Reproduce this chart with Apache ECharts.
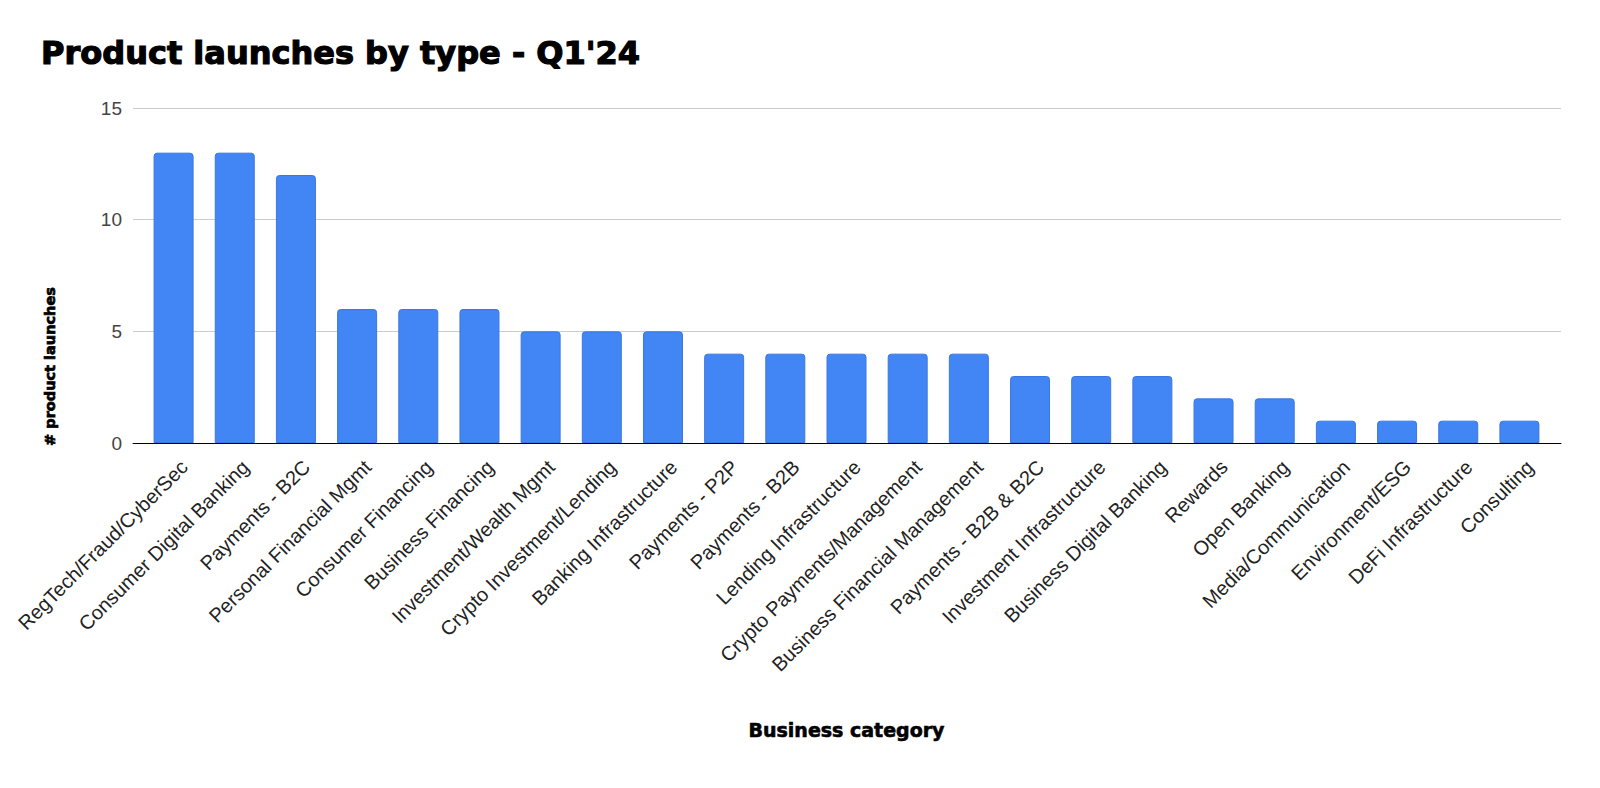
<!DOCTYPE html>
<html>
<head>
<meta charset="utf-8">
<script src="https://cdn.jsdelivr.net/npm/echarts@6/dist/echarts.min.js"></script>
<style>
html,body{margin:0;padding:0;background:#fff;}
#chart{width:1600px;height:788px;}
</style>
</head>
<body>
<div id="chart"></div>
<script>
const categories = [
  "RegTech/Fraud/CyberSec",
  "Consumer Digital Banking",
  "Payments - B2C",
  "Personal Financial Mgmt",
  "Consumer Financing",
  "Business Financing",
  "Investment/Wealth Mgmt",
  "Crypto Investment/Lending",
  "Banking Infrastructure",
  "Payments - P2P",
  "Payments - B2B",
  "Lending Infrastructure",
  "Crypto Payments/Management",
  "Business Financial Management",
  "Payments - B2B & B2C",
  "Investment Infrastructure",
  "Business Digital Banking",
  "Rewards",
  "Open Banking",
  "Media/Communication",
  "Environment/ESG",
  "DeFi Infrastructure",
  "Consulting"
];
const launches = [13, 13, 12, 6, 6, 6, 5, 5, 5, 4, 4, 4, 4, 4, 3, 3, 3, 2, 2, 1, 1, 1, 1];
const yTicks = [0, 5, 10, 15];

const yMin = yTicks[0];
const yMax = yTicks[yTicks.length - 1];
const yStep = yTicks[1] - yTicks[0];

const chart = echarts.init(document.getElementById('chart'), null, {renderer: 'svg'});
chart.setOption({
  backgroundColor: '#ffffff',
  animation: false,
  title: {
    text: "Product launches by type - Q1'24",
    left: 41,
    top: 37,
    padding: 0,
    textStyle: {
      fontFamily: 'DejaVu Sans',
      fontWeight: 'bold',
      fontSize: 32,
      color: '#000000',
      textBorderColor: '#000000',
      textBorderWidth: 1.2
    }
  },
  grid: [
    {left: 133, right: 39, top: 108, bottom: 345, containLabel: false},
    {left: 143, right: 50, top: 108, bottom: 345, containLabel: false}
  ],
  xAxis: [
    {
      gridIndex: 0,
      type: 'value',
      min: 0,
      max: 1,
      z: 5,
      axisLine: {show: true, onZero: false, lineStyle: {color: '#000000', width: 1}},
      axisTick: {show: false},
      axisLabel: {show: false},
      splitLine: {show: false}
    },
    {
      gridIndex: 1,
      type: 'category',
      data: categories,
      name: 'Business category',
      nameLocation: 'middle',
      nameGap: 277,
      nameTextStyle: {
        fontFamily: 'DejaVu Sans',
        fontWeight: 'bold',
        fontSize: 19,
        color: '#000000',
        textBorderColor: '#000000',
        textBorderWidth: 0.6
      },
      axisLine: {show: false},
      axisTick: {show: false},
      axisLabel: {
        rotate: 45,
        interval: 0,
        margin: 10,
        verticalAlign: 'top',
        lineHeight: 30,
        fontFamily: 'Liberation Sans',
        fontSize: 20,
        color: '#222222'
      }
    }
  ],
  yAxis: [
    {
      gridIndex: 0,
      type: 'value',
      min: yMin,
      max: yMax,
      interval: yStep,
      name: '# product launches',
      nameLocation: 'middle',
      nameRotate: 90,
      nameGap: 76,
      nameTextStyle: {
        fontFamily: 'DejaVu Sans',
        fontWeight: 'bold',
        fontSize: 14.5,
        color: '#000000',
        textBorderColor: '#000000',
        textBorderWidth: 0.7,
        padding: [0, 182, 0, 0]
      },
      axisLine: {show: false},
      axisTick: {show: false},
      axisLabel: {
        margin: 11,
        fontFamily: 'Liberation Sans',
        fontSize: 19,
        color: '#444444'
      },
      splitLine: {show: true, lineStyle: {color: '#cccccc', width: 1}}
    },
    {
      gridIndex: 1,
      type: 'value',
      min: yMin,
      max: yMax,
      interval: yStep,
      show: false,
      splitLine: {show: false}
    }
  ],
  series: [{
    type: 'bar',
    xAxisIndex: 1,
    yAxisIndex: 1,
    data: launches,
    barWidth: 40,
    itemStyle: {
      color: '#4285f4',
      borderColor: '#3a78e0',
      borderWidth: 1,
      borderRadius: [3, 3, 0, 0]
    }
  }]
});
</script>
</body>
</html>
